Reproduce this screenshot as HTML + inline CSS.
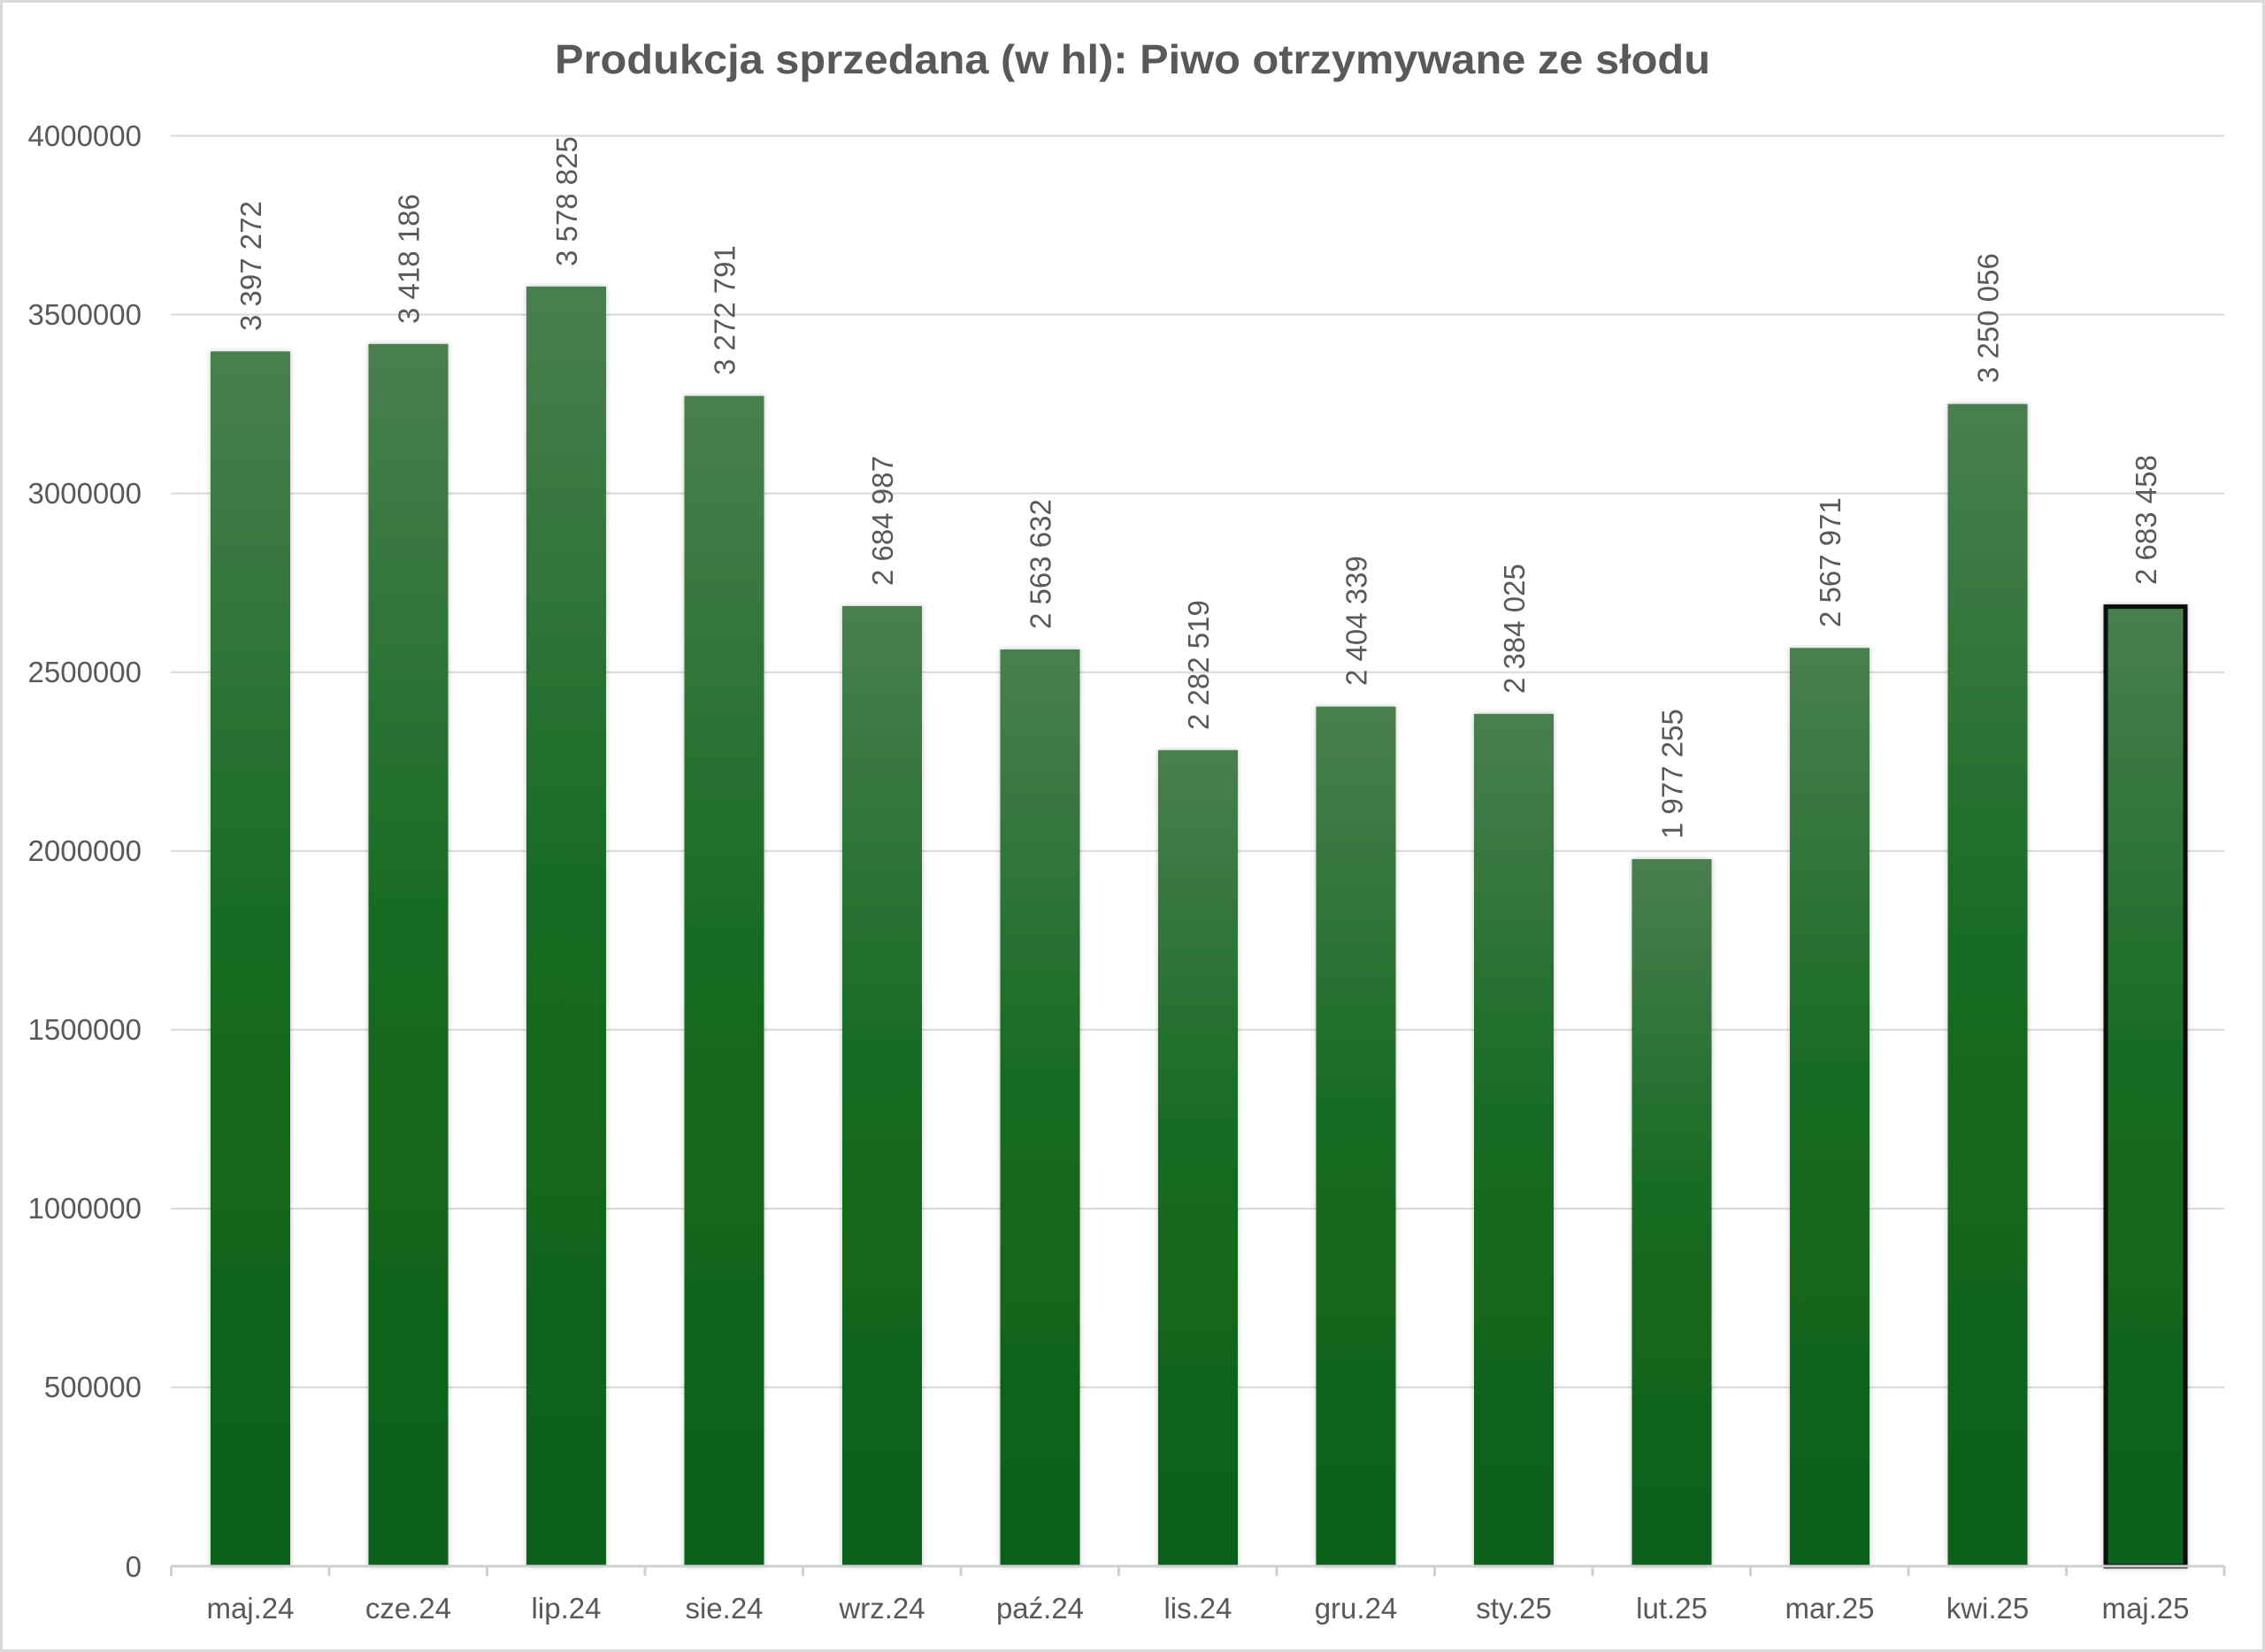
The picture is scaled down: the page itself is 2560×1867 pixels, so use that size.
<!DOCTYPE html>
<html><head><meta charset="utf-8"><style>
html,body{margin:0;padding:0;background:#fff}
svg{display:block}
text{font-family:"Liberation Sans",sans-serif;fill:#595959}
</style></head><body>
<svg width="2560" height="1867" viewBox="0 0 2560 1867" xmlns="http://www.w3.org/2000/svg">
<defs>
<linearGradient id="g" x1="0" y1="0" x2="0" y2="1">
<stop offset="0" stop-color="#4a7e50"/>
<stop offset="0.5" stop-color="#146a20"/>
<stop offset="1" stop-color="#0f5f1b"/>
</linearGradient>
<filter id="sh" x="-20%" y="-5%" width="140%" height="110%"><feDropShadow dx="0" dy="0" stdDeviation="3" flood-color="#000" flood-opacity="0.25"/></filter>
</defs>
<rect x="1.5" y="1.5" width="2557" height="1864" fill="#fff" stroke="#d9d9d9" stroke-width="3"/>
<text x="1280" y="83" text-anchor="middle" font-size="46" font-weight="bold" textLength="1306" lengthAdjust="spacingAndGlyphs">Produkcja sprzedana (w hl): Piwo otrzymywane ze słodu</text>
<g stroke="#d9d9d9" stroke-width="2">
<line x1="193" y1="153.5" x2="2514" y2="153.5"/>
<line x1="193" y1="355.6" x2="2514" y2="355.6"/>
<line x1="193" y1="557.6" x2="2514" y2="557.6"/>
<line x1="193" y1="759.7" x2="2514" y2="759.7"/>
<line x1="193" y1="961.8" x2="2514" y2="961.8"/>
<line x1="193" y1="1163.8" x2="2514" y2="1163.8"/>
<line x1="193" y1="1365.9" x2="2514" y2="1365.9"/>
<line x1="193" y1="1567.9" x2="2514" y2="1567.9"/>
</g>
<g font-size="33" text-anchor="end">
<text x="160" y="165">4000000</text>
<text x="160" y="367">3500000</text>
<text x="160" y="569">3000000</text>
<text x="160" y="771">2500000</text>
<text x="160" y="973">2000000</text>
<text x="160" y="1175">1500000</text>
<text x="160" y="1377">1000000</text>
<text x="160" y="1579">500000</text>
<text x="160" y="1782">0</text>
</g>
<g id="bars" filter="url(#sh)">
<rect x="238" y="397.2" width="90" height="1372.8" fill="url(#g)"/>
<rect x="416.5" y="388.8" width="90" height="1381.2" fill="url(#g)"/>
<rect x="595" y="323.8" width="90" height="1446.2" fill="url(#g)"/>
<rect x="773.5" y="447.5" width="90" height="1322.5" fill="url(#g)"/>
<rect x="952" y="685" width="90" height="1085" fill="url(#g)"/>
<rect x="1130.5" y="734" width="90" height="1036" fill="url(#g)"/>
<rect x="1309" y="847.8" width="90" height="922.2" fill="url(#g)"/>
<rect x="1487.5" y="798.6" width="90" height="971.4" fill="url(#g)"/>
<rect x="1666" y="806.8" width="90" height="963.2" fill="url(#g)"/>
<rect x="1844.5" y="971" width="90" height="799" fill="url(#g)"/>
<rect x="2023" y="732.3" width="90" height="1037.7" fill="url(#g)"/>
<rect x="2201.5" y="456.6" width="90" height="1313.4" fill="url(#g)"/>
<rect x="2380" y="685.6" width="90" height="1084.4" fill="url(#g)" stroke="#111" stroke-width="5"/>
</g>
<g stroke="#d0d0d0" stroke-width="3">
<line x1="193" y1="1770" x2="2514" y2="1770"/>
<line x1="193.5" y1="1770" x2="193.5" y2="1781"/><line x1="372" y1="1770" x2="372" y2="1781"/><line x1="550.5" y1="1770" x2="550.5" y2="1781"/><line x1="729" y1="1770" x2="729" y2="1781"/><line x1="907.5" y1="1770" x2="907.5" y2="1781"/><line x1="1086" y1="1770" x2="1086" y2="1781"/><line x1="1264.5" y1="1770" x2="1264.5" y2="1781"/><line x1="1443" y1="1770" x2="1443" y2="1781"/><line x1="1621.5" y1="1770" x2="1621.5" y2="1781"/><line x1="1800" y1="1770" x2="1800" y2="1781"/><line x1="1978.5" y1="1770" x2="1978.5" y2="1781"/><line x1="2157" y1="1770" x2="2157" y2="1781"/><line x1="2335.5" y1="1770" x2="2335.5" y2="1781"/><line x1="2514" y1="1770" x2="2514" y2="1781"/>
</g>
<g font-size="33" text-anchor="middle">
<text x="283" y="1829">maj.24</text><text x="461.5" y="1829">cze.24</text><text x="640" y="1829">lip.24</text><text x="818.5" y="1829">sie.24</text><text x="997" y="1829">wrz.24</text><text x="1175.5" y="1829">paź.24</text><text x="1354" y="1829">lis.24</text><text x="1532.5" y="1829">gru.24</text><text x="1711" y="1829">sty.25</text><text x="1889.5" y="1829">lut.25</text><text x="2068" y="1829">mar.25</text><text x="2246.5" y="1829">kwi.25</text><text x="2425" y="1829">maj.25</text>
</g>
<g font-size="33" fill="#404040">
<text transform="translate(295,374) rotate(-90)">3 397 272</text>
<text transform="translate(473.5,366) rotate(-90)">3 418 186</text>
<text transform="translate(652,301) rotate(-90)">3 578 825</text>
<text transform="translate(830.5,424) rotate(-90)">3 272 791</text>
<text transform="translate(1009,662) rotate(-90)">2 684 987</text>
<text transform="translate(1187.5,711) rotate(-90)">2 563 632</text>
<text transform="translate(1366,825) rotate(-90)">2 282 519</text>
<text transform="translate(1544.5,775) rotate(-90)">2 404 339</text>
<text transform="translate(1723,784) rotate(-90)">2 384 025</text>
<text transform="translate(1901.5,948) rotate(-90)">1 977 255</text>
<text transform="translate(2080,709) rotate(-90)">2 567 971</text>
<text transform="translate(2258.5,433) rotate(-90)">3 250 056</text>
<text transform="translate(2437,661) rotate(-90)">2 683 458</text>
</g>
</svg>
</body></html>
